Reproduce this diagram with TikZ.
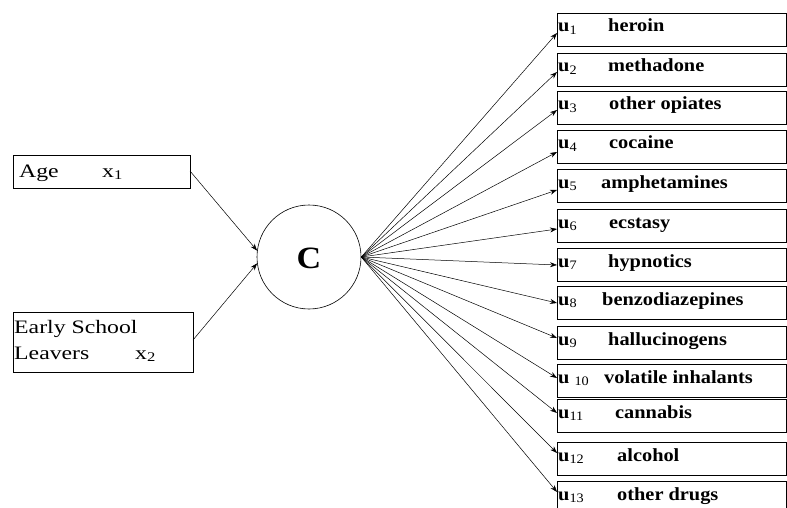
\documentclass[tikz,border=0pt]{standalone}
\usepackage{fontspec}
\setmainfont{Liberation Serif}
\newfontfamily\wideserif[FakeStretch=1.25]{Liberation Serif}
\newfontfamily\midserif[FakeStretch=1.1]{Liberation Serif}
\newcommand{\usub}[1]{\textsubscript{\mdseries #1}}
\usetikzlibrary{arrows.meta,calc}
\begin{document}
\begin{tikzpicture}[x=1pt,y=-1pt,
 rbox/.style={draw, line width=0.7pt, minimum width=229pt, minimum height=33pt, anchor=north west, inner sep=0pt, outer sep=0pt},
 lbox/.style={draw, line width=0.7pt, anchor=north west, inner sep=0pt, outer sep=0pt},
 lbl/.style={anchor=base west, inner sep=0pt, font=\midserif\fontsize{18.5}{21}\selectfont\bfseries},
 ltxt/.style={anchor=base west, inner sep=0pt, font=\wideserif\fontsize{19}{22}\selectfont},
 arr/.style={-{Stealth[length=7pt,width=5pt]}, line width=0.5pt}]
\useasboundingbox (0,0) rectangle (787,508);

% latent class circle
\node[draw, circle, line width=0.6pt, minimum size=104pt, inner sep=0pt] (C) at (309,257) {};
\node[font=\midserif\fontsize{31}{33}\selectfont\bfseries, inner sep=0pt] (Clbl) at (309,258) {C};

% left boxes
\node[lbox, minimum width=177pt, minimum height=33pt] (age) at (13,155) {};
\node[ltxt] (agetxt) at (19,177) {Age};
\node[ltxt] (x1) at (102,177) {x\textsubscript{1}};
\node[lbox, minimum width=180pt, minimum height=60pt] (esl) at (13,312) {};
\node[ltxt] (esltxt1) at (14,333) {Early School};
\node[ltxt] (esltxt2) at (14,359) {Leavers};
\node[ltxt] (x2) at (135,359) {x\textsubscript{2}};

\coordinate (ageout) at (190,171);
\coordinate (eslout) at (193,340);
\draw[arr] (ageout) -- (C.173);
\draw[arr] (eslout) -- (C.187);

% right boxes
\foreach \i/\top/\tip/\tx/\u/\name in {
 1/13/33/608/u\usub{1}/heroin,
 2/53/72/608/u\usub{2}/methadone,
 3/91/110/609/u\usub{3}/other opiates,
 4/130/152/609/u\usub{4}/cocaine,
 5/169/190/601/u\usub{5}/amphetamines,
 6/209/229/609/u\usub{6}/ecstasy,
 7/248/265/608/u\usub{7}/hypnotics,
 8/286/303/602/u\usub{8}/benzodiazepines,
 9/326/338/608/u\usub{9}/hallucinogens,
 10/364/378/604/u \usub{10}/volatile inhalants,
 11/399/413/615/u\usub{11}/cannabis,
 12/442/453/617/u\usub{12}/alcohol,
 13/481/492/617/u\usub{13}/other drugs}{
 \node[rbox] (b\i) at (557,\top) {};
 \node[lbl] (u\i) at (558,\top+19) {\u};
 \node[lbl] (t\i) at (\tx,\top+19) {\name};
 \coordinate (p\i) at (557,\tip);
 \draw[arr] (C.east) -- (p\i);
}
\end{tikzpicture}
\end{document}
